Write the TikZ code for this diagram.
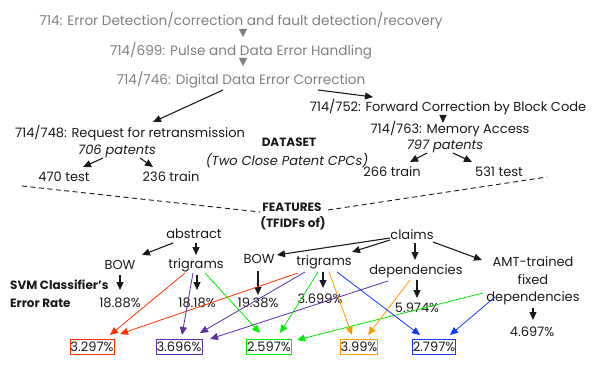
\documentclass[tikz,border=0pt]{standalone}
\usepackage{fontspec}
\setmainfont{Poppins}
\usetikzlibrary{arrows.meta,calc}
\definecolor{txt}{HTML}{1A1A1A}
\definecolor{hdr}{HTML}{808080}
\definecolor{cred}{HTML}{FF3300}
\definecolor{cpur}{HTML}{5E2CA5}
\definecolor{cgrn}{HTML}{00EE00}
\definecolor{corg}{HTML}{FF9900}
\definecolor{cblu}{HTML}{1438FF}
\begin{document}
\begin{tikzpicture}[x=1pt,y=-1pt,
  every node/.style={inner sep=0pt, font=\fontsize{13}{15}\selectfont, text=txt},
  hdrtext/.style={text=hdr, font=\fontsize{13.6}{15}\selectfont},
  ital/.style={font=\fontsize{13}{15}\selectfont\itshape},
  boldt/.style={font=\fontsize{12}{14}\selectfont\bfseries},
  arr/.style={-{Triangle[length=8pt,width=7pt]}, line width=1.1pt, draw=txt},
  garr/.style={-{Triangle[length=8pt,width=8pt]}, line width=0.1pt, draw=hdr, fill=hdr},
  carr/.style={-{Triangle[length=8pt,width=7pt]}, line width=0.8pt},
  boxst/.style={draw, line width=0.9pt, inner xsep=0.5pt, inner ysep=3pt},
  dsh/.style={dashed, dash pattern=on 5pt off 3.5pt, line width=0.9pt, draw=txt}]
\useasboundingbox (0,0) rectangle (606,369);
% header
\node[hdrtext] (L1) at (241,21) {714: Error Detection/correction and fault detection/recovery};
\node[hdrtext] (L2) at (241,51) {714/699: Pulse and Data Error Handling};
\node[hdrtext] (L3) at (241,80) {714/746: Digital Data Error Correction};
\draw[garr, shorten <=8pt, shorten >=14pt] ($(L1.center)+(2,0)$) -- ($(L2.center)+(2,0)$);
\draw[garr, shorten <=8pt, shorten >=14pt] ($(L2.center)+(2,0)$) -- ($(L3.center)+(2,0)$);
% dataset
\node (n748) at (130,133) {714/748: Request for retransmission};
\node[ital] (p706) at (117,151) {706 patents};
\node (t470) at (64,177) {470 test};
\node (tr236) at (171,177) {236 train};
\node[boldt] (dset) at (289,142) {DATASET};
\node[ital] (cpc) at (287,161) {(Two Close Patent CPCs)};
\node (n752) at (448,107) {714/752: Forward Correction by Block Code};
\node (n763) at (450,129) {714/763: Memory Access};
\node[ital] (p797) at (445,146) {797 patents};
\node (tr266) at (392,172) {266 train};
\node (te531) at (499,172) {531 test};
\draw[arr] ($(L3.center)+(-18,10)$) -- ($(n748.center)+(23,-11)$);
\draw[arr] ($(L3.center)+(77,10)$) -- ($(n752.center)+(-75,-10)$);
\draw[arr] ($(p706.center)+(-14,7)$) -- ($(t470.center)+(19,-10)$);
\draw[arr] ($(p706.center)+(23,7)$) -- ($(tr236.center)+(-18,-10)$);
\draw[arr] ($(n752.center)+(-5,8)$) -- ($(n763.center)+(-7,-6)$);
\draw[arr] ($(p797.center)+(-18,7)$) -- ($(tr266.center)+(18,-10)$);
\draw[arr] ($(p797.center)+(8,7)$) -- ($(te531.center)+(-27,-10)$);
% features
\node[boldt] (feat) at (292,207) {FEATURES};
\node[boldt] (tfidf) at (293,223) {(TFIDFs of)};
\coordinate (dl) at (22,186);
\coordinate (dr) at (547,177);
\draw[dsh] (dl) -- ($(feat.center)+(-32,5)$);
\draw[dsh] ($(feat.center)+(36,3)$) -- (dr);
\node (abs) at (194,234) {abstract};
\node (aBOW) at (120,265) {BOW};
\node (atri) at (196,265) {trigrams};
\node (claims) at (412,235) {claims};
\node (cBOW) at (259,259) {BOW};
\node (ctri) at (324,262) {trigrams};
\node (dep) at (416,271) {dependencies};
\node[align=center, font=\fontsize{13}{17.5}\selectfont] (amt) at (533,281) {AMT-trained\\fixed\\dependencies};
\node[align=left, anchor=west, font=\fontsize{12}{18}\selectfont\bfseries] (svm) at (10,294) {SVM Classifier's\\Error Rate};
\draw[arr] ($(abs.center)+(-21,9)$) -- ($(aBOW.center)+(22,-10)$);
\draw[arr] ($(abs.center)+(2,9)$) -- ($(atri.center)+(0,-10)$);
\draw[arr] ($(claims.center)+(-22,3)$) -- ($(cBOW.center)+(18,-4)$);
\draw[arr] ($(claims.center)+(-22,5)$) -- ($(ctri.center)+(28,-10)$);
\draw[arr] ($(claims.center)+(3,8)$) -- ($(dep.center)+(-1,-11)$);
\draw[arr] ($(claims.center)+(21,7)$) -- ($(amt.center)+(-51,-21)$);
% rates
\node (r1888) at (120,303) {18.88\%};
\node (r1818) at (197,303) {18.18\%};
\node (r1938) at (258,303) {19.38\%};
\node (r3699) at (320,299) {3.699\%};
\node (r5974) at (417,308) {5.974\%};
\node (r4697) at (532,332) {4.697\%};
\draw[arr] ($(aBOW.center)+(0,10)$) -- ($(r1888.center)+(0,-13)$);
\draw[arr] ($(atri.center)+(1,10)$) -- ($(r1818.center)+(0,-13)$);
\draw[arr] ($(cBOW.center)+(-1,12)$) -- ($(r1938.center)+(0,-8)$);
\draw[arr] ($(ctri.center)+(-1,10)$) -- ($(r3699.center)+(3,-11)$);
\draw[arr] ($(dep.center)+(1,9)$) -- ($(r5974.center)+(0,-10)$);
\draw[arr] ($(amt.center)+(0,27)$) -- ($(r4697.center)+(1,-12)$);
% boxes
\node[boxst, draw=cred] (bred) at (92,347) {3.297\%};
\node[boxst, draw=cpur] (bpur) at (179,347) {3.696\%};
\node[boxst, draw=cgrn] (bgrn) at (269,347) {2.597\%};
\node[boxst, draw=corg] (borg) at (359,347) {3.99\%};
\node[boxst, draw=cblu] (bblu) at (434,347) {2.797\%};
% coloured connectors
\draw[carr, cred] ($(atri.center)+(-11,8)$) -- ($(bred.center)+(18,-12)$);
\draw[carr, cred] ($(ctri.center)+(-26,11)$) -- ($(bred.center)+(28,-13)$);
\draw[carr, cpur] ($(atri.center)+(-3,8)$) -- ($(bpur.center)+(3,-12)$);
\draw[carr, cpur] ($(ctri.center)+(-19,10)$) -- ($(bpur.center)+(21,-14)$);
\draw[carr, cpur] ($(dep.center)+(-28,10)$) -- ($(bpur.center)+(31,-8)$);
\draw[carr, cgrn] ($(atri.center)+(9,8)$) -- ($(bgrn.center)+(-9,-14)$);
\draw[carr, cgrn] ($(ctri.center)+(-6,10)$) -- ($(bgrn.center)+(11,-14)$);
\draw[carr, cgrn] ($(amt.center)+(-50,12)$) -- ($(bgrn.center)+(28,-7)$);
\draw[carr, corg] ($(ctri.center)+(5,10)$) -- ($(borg.center)+(-7,-12)$);
\draw[carr, corg] ($(dep.center)+(-6,9)$) -- ($(borg.center)+(9,-12)$);
\draw[carr, cblu] ($(ctri.center)+(13,10)$) -- ($(bblu.center)+(-14,-12)$);
\draw[carr, cblu] ($(amt.center)+(-38,16)$) -- ($(bblu.center)+(16,-12)$);
\end{tikzpicture}
\end{document}
